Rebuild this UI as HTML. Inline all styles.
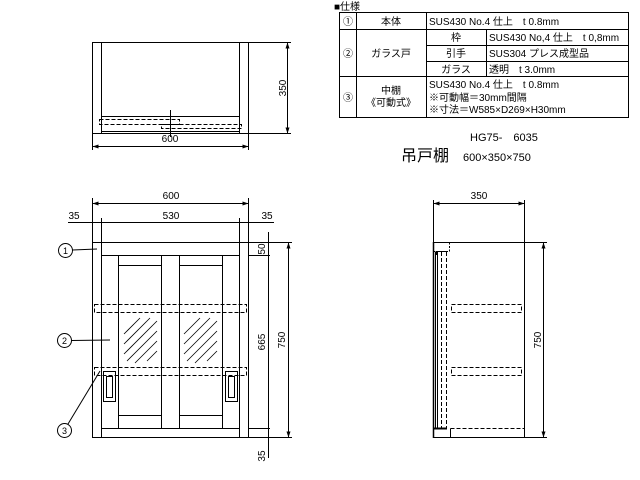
<!DOCTYPE html>
<html><head><meta charset="utf-8"><style>
html,body{margin:0;padding:0;background:#fff}
svg{display:block}
text{font-family:"Liberation Sans","Noto Sans CJK JP",sans-serif;fill:#000}
</style></head><body>
<svg width="640" height="480" viewBox="0 0 640 480" xmlns="http://www.w3.org/2000/svg">
<defs>
<marker id="a" markerWidth="6" markerHeight="4" refX="6" refY="2" orient="auto-start-reverse" markerUnits="userSpaceOnUse"><path d="M0 0 L6 2 L0 4 z" fill="#000"/></marker>
</defs>
<g stroke="#000" stroke-width="1" fill="none">
<!-- TOP VIEW -->
<rect x="92.5" y="42.5" width="156" height="91"/>
<line x1="101.5" y1="42.5" x2="101.5" y2="133.5"/>
<line x1="239.5" y1="42.5" x2="239.5" y2="133.5"/>
<rect x="101.5" y="116.5" width="138" height="15"/>
<rect x="99.5" y="119.5" width="80" height="5" stroke-dasharray="4,2"/>
<rect x="161.5" y="124.5" width="80" height="4" stroke-dasharray="4,2"/>
<line x1="170.5" y1="110" x2="170.5" y2="137"/>
<line x1="92.5" y1="133" x2="92.5" y2="150"/>
<line x1="248.5" y1="133" x2="248.5" y2="150"/>
<line x1="92.5" y1="146.5" x2="248.5" y2="146.5" marker-start="url(#a)" marker-end="url(#a)"/>
<line x1="248" y1="42.5" x2="291" y2="42.5"/>
<line x1="248" y1="133.5" x2="291" y2="133.5"/>
<line x1="287.5" y1="42.5" x2="287.5" y2="133.5" marker-start="url(#a)" marker-end="url(#a)"/>

<!-- FRONT VIEW -->
<rect x="92.5" y="242.5" width="156" height="195"/>
<line x1="101.5" y1="242.5" x2="101.5" y2="437.5"/>
<line x1="239.5" y1="242.5" x2="239.5" y2="437.5"/>
<line x1="101.5" y1="255.5" x2="239.5" y2="255.5"/>
<line x1="101.5" y1="428.5" x2="239.5" y2="428.5"/>
<line x1="118.5" y1="255.5" x2="118.5" y2="428.5"/>
<line x1="161.5" y1="255.5" x2="161.5" y2="428.5"/>
<line x1="179.5" y1="255.5" x2="179.5" y2="428.5"/>
<line x1="222.5" y1="255.5" x2="222.5" y2="428.5"/>
<line x1="118.5" y1="265.5" x2="161.5" y2="265.5"/>
<line x1="179.5" y1="265.5" x2="222.5" y2="265.5"/>
<line x1="118.5" y1="415.5" x2="161.5" y2="415.5"/>
<line x1="179.5" y1="415.5" x2="222.5" y2="415.5"/>
<rect x="94.5" y="304.5" width="152" height="8" stroke-dasharray="4,2"/>
<rect x="94.5" y="367.5" width="152" height="8" stroke-dasharray="4,2"/>
<g stroke-width="0.8">
<line x1="124" y1="334" x2="140" y2="318"/><line x1="124" y1="344" x2="150" y2="318"/><line x1="124" y1="354" x2="157" y2="321"/><line x1="127" y1="361" x2="157" y2="331"/><line x1="135" y1="363" x2="157" y2="341"/><line x1="147" y1="361" x2="157" y2="351"/>
<line x1="184" y1="334" x2="200" y2="318"/><line x1="184" y1="344" x2="210" y2="318"/><line x1="184" y1="354" x2="217" y2="321"/><line x1="187" y1="361" x2="217" y2="331"/><line x1="195" y1="363" x2="217" y2="341"/><line x1="207" y1="361" x2="217" y2="351"/>
</g>
<rect x="103.5" y="371.5" width="12" height="30"/>
<rect x="106.5" y="376.5" width="6" height="21"/>
<rect x="225.5" y="371.5" width="12" height="30"/>
<rect x="228.5" y="376.5" width="6" height="21"/>
<!-- front dims -->
<line x1="92.5" y1="198" x2="92.5" y2="242"/>
<line x1="248.5" y1="198" x2="248.5" y2="242"/>
<line x1="101.5" y1="218" x2="101.5" y2="242"/>
<line x1="239.5" y1="218" x2="239.5" y2="242"/>
<line x1="92.5" y1="203.5" x2="248.5" y2="203.5" marker-start="url(#a)" marker-end="url(#a)"/>
<line x1="68" y1="222.5" x2="274" y2="222.5"/>
<line x1="248" y1="242.5" x2="292" y2="242.5"/>
<line x1="248" y1="255.5" x2="270" y2="255.5"/>
<line x1="248" y1="428.5" x2="270" y2="428.5"/>
<line x1="248" y1="437.5" x2="292" y2="437.5"/>
<line x1="268.5" y1="232" x2="268.5" y2="458"/>
<line x1="288.5" y1="242.5" x2="288.5" y2="437.5" marker-start="url(#a)" marker-end="url(#a)"/>
<!-- callouts -->
<circle cx="65.5" cy="250.5" r="7"/>
<line x1="72.5" y1="250" x2="97" y2="249"/>
<circle cx="64.5" cy="340.5" r="7"/>
<line x1="71.5" y1="340.5" x2="110" y2="340"/>
<circle cx="64.5" cy="430.5" r="7"/>
<line x1="68" y1="424" x2="100" y2="371"/>

<!-- SIDE VIEW -->
<rect x="433.5" y="242.5" width="91" height="195"/>
<line x1="433.5" y1="242" x2="433.5" y2="438" stroke-width="1.5"/>
<path d="M449.5 242.5 V251.5 M433.5 251.5 H437 M446 251.5 H449.5" stroke-dasharray="2,1.5"/>
<path d="M436.5 255 V251.5 H446.5 V255"/>
<line x1="435.5" y1="252" x2="435.5" y2="429"/>
<line x1="437.5" y1="252" x2="437.5" y2="429"/>
<line x1="441.5" y1="252" x2="441.5" y2="429" stroke-dasharray="4,2"/>
<line x1="446.5" y1="252" x2="446.5" y2="429" stroke-dasharray="4,2"/>
<line x1="434" y1="428.5" x2="447" y2="428.5" stroke-width="2"/>
<line x1="450.5" y1="428.5" x2="450.5" y2="437.5"/>
<line x1="450.5" y1="428.5" x2="524.5" y2="428.5" stroke-dasharray="4,2"/>
<rect x="451.5" y="304.5" width="70" height="8" stroke-dasharray="4,2"/>
<rect x="451.5" y="367.5" width="70" height="8" stroke-dasharray="4,2"/>
<line x1="433.5" y1="200" x2="433.5" y2="242"/>
<line x1="524.5" y1="200" x2="524.5" y2="242"/>
<line x1="433.5" y1="203.5" x2="524.5" y2="203.5" marker-start="url(#a)" marker-end="url(#a)"/>
<line x1="524" y1="242.5" x2="547" y2="242.5"/>
<line x1="524" y1="437.5" x2="547" y2="437.5"/>
<line x1="543.5" y1="242.5" x2="543.5" y2="437.5" marker-start="url(#a)" marker-end="url(#a)"/>

<!-- TABLE -->
<rect x="339.5" y="12.5" width="289" height="105"/>
<line x1="356.5" y1="12.5" x2="356.5" y2="117.5"/>
<line x1="426.5" y1="12.5" x2="426.5" y2="117.5"/>
<line x1="486.5" y1="29.5" x2="486.5" y2="76.5"/>
<line x1="339.5" y1="29.5" x2="628.5" y2="29.5"/>
<line x1="426.5" y1="45.5" x2="628.5" y2="45.5"/>
<line x1="426.5" y1="61.5" x2="628.5" y2="61.5"/>
<line x1="339.5" y1="76.5" x2="628.5" y2="76.5"/>
</g>
<g font-size="10">
<text x="170" y="142" text-anchor="middle">600</text>
<text transform="translate(286,88) rotate(-90)" text-anchor="middle">350</text>
<text x="171" y="199" text-anchor="middle">600</text>
<text x="171" y="219" text-anchor="middle">530</text>
<text x="74" y="219" text-anchor="middle">35</text>
<text x="267" y="219" text-anchor="middle">35</text>
<text transform="translate(265,249) rotate(-90)" text-anchor="middle">50</text>
<text transform="translate(265,342) rotate(-90)" text-anchor="middle">665</text>
<text transform="translate(285,340) rotate(-90)" text-anchor="middle">750</text>
<text transform="translate(265,456) rotate(-90)" text-anchor="middle">35</text>
<text x="479" y="199" text-anchor="middle">350</text>
<text transform="translate(541,340) rotate(-90)" text-anchor="middle">750</text>
<text x="65.5" y="254" text-anchor="middle" font-size="9">1</text>
<text x="64.5" y="344" text-anchor="middle" font-size="9">2</text>
<text x="64.5" y="434" text-anchor="middle" font-size="9">3</text>
</g>
<g font-size="10">
<text x="334" y="10">■仕様</text>
<text x="348" y="25" text-anchor="middle">①</text>
<text x="348" y="57" text-anchor="middle">②</text>
<text x="348" y="101" text-anchor="middle">③</text>
<text x="391" y="25" text-anchor="middle">本体</text>
<text x="391" y="57" text-anchor="middle">ガラス戸</text>
<text x="391" y="94" text-anchor="middle">中棚</text>
<text x="391" y="106" text-anchor="middle">《可動式》</text>
<text x="429" y="25">SUS430 No.4 仕上　t 0.8mm</text>
<text x="456" y="41" text-anchor="middle">枠</text>
<text x="456" y="57" text-anchor="middle">引手</text>
<text x="456" y="73" text-anchor="middle">ガラス</text>
<text x="489" y="41">SUS430 No,4 仕上　t 0,8mm</text>
<text x="489" y="57">SUS304 プレス成型品</text>
<text x="489" y="73">透明　t 3.0mm</text>
<text x="429" y="88">SUS430 No.4 仕上　t 0.8mm</text>
<text x="429" y="101">※可動幅＝30mm間隔</text>
<text x="429" y="113">※寸法＝W585×D269×H30mm</text>
</g>
<text x="401" y="161" font-size="16">吊戸棚</text>
<text x="470" y="141" font-size="11">HG75-　6035</text>
<text x="463" y="161" font-size="11">600×350×750</text>
</svg>
</body></html>
